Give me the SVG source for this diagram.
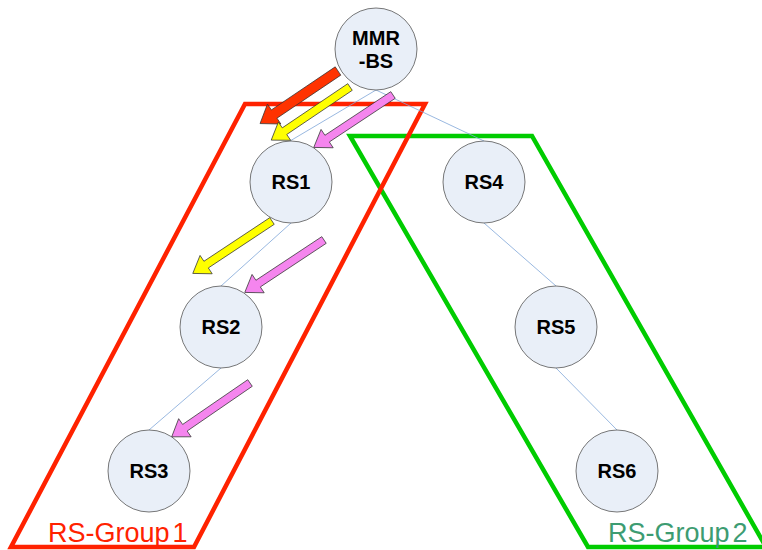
<svg xmlns="http://www.w3.org/2000/svg" xmlns:xlink="http://www.w3.org/1999/xlink" width="762" height="550" viewBox="0 0 762 550">
<style>
.node circle{fill:#e9eff8;stroke:#555;stroke-width:0.8}
.node text{font-family:"Liberation Sans",Arial,sans-serif;font-weight:bold;font-size:20px;fill:#000;text-anchor:middle}
.link{stroke:#7fa6d8;stroke-width:0.8;fill:none}
.grp{fill:none;stroke-width:4.5;stroke-linejoin:miter}
.lbl{font-family:"Liberation Sans",Arial,sans-serif;font-size:27px}
.arr{stroke:#333;stroke-width:0.7;stroke-linejoin:miter}
</style>
<defs>
<path id="a" d="M0,-4 L79,-4 L79,-11 L95,0 L79,11 L79,4 L0,4 Z"/>
<path id="ar" d="M0,-5 L77,-5 L77,-12 L94,0 L77,12 L77,5 L0,5 Z"/>
</defs>
<rect width="762" height="550" fill="#fff"/>
<g id="group2">
<polygon class="grp" stroke="#00cc00" points="350,136 532,136 766,547 588,547"/>
<text class="lbl" x="608" y="542" fill="#3d9c72">RS-Group<tspan dx="3">2</tspan></text>
</g>
<g id="group1">
<polygon class="grp" stroke="#ff2200" points="245,104 425,104 194,547 11,547"/>
<text class="lbl" x="48" y="542" fill="#ff2200">RS-Group<tspan dx="3">1</tspan></text>
</g>
<g id="connectors">
<line class="link" x1="376" y1="90" x2="290" y2="141"/>
<line class="link" x1="376" y1="90" x2="484" y2="141"/>
<line class="link" x1="291" y1="223" x2="221" y2="286"/>
<line class="link" x1="221" y1="368" x2="149" y2="430"/>
<line class="link" x1="484" y1="223" x2="556" y2="286"/>
<line class="link" x1="556" y1="368" x2="617" y2="430"/>
</g>
<g id="mmrbs" class="node"><circle cx="376" cy="49" r="41"/><text x="376" y="45">MMR</text><text x="376" y="68">-BS</text></g>
<g id="rs1" class="node"><circle cx="291" cy="182" r="41"/><text x="291" y="189">RS1</text></g>
<g id="rs4" class="node"><circle cx="484" cy="182" r="41"/><text x="484" y="189">RS4</text></g>
<g id="rs2" class="node"><circle cx="221" cy="327" r="41"/><text x="221" y="334">RS2</text></g>
<g id="rs5" class="node"><circle cx="556" cy="327" r="41"/><text x="556" y="334">RS5</text></g>
<g id="rs3" class="node"><circle cx="149" cy="471" r="41"/><text x="149" y="478">RS3</text></g>
<g id="rs6" class="node"><circle cx="617" cy="471" r="41"/><text x="617" y="478">RS6</text></g>
<g id="arrows">
<use xlink:href="#ar" class="arr" fill="#ff3300" transform="translate(338,71) rotate(146)"/>
<use xlink:href="#a" class="arr" fill="#ffff00" transform="translate(350,87) rotate(146)"/>
<use xlink:href="#a" class="arr" fill="#f585ee" transform="translate(393,95) rotate(146.5)"/>
<use xlink:href="#a" class="arr" fill="#ffff00" transform="translate(272,221) rotate(146.5)"/>
<use xlink:href="#a" class="arr" fill="#f585ee" transform="translate(324,240) rotate(146.5)"/>
<use xlink:href="#a" class="arr" fill="#f585ee" transform="translate(250,383) rotate(145.5)"/>
</g>
</svg>
